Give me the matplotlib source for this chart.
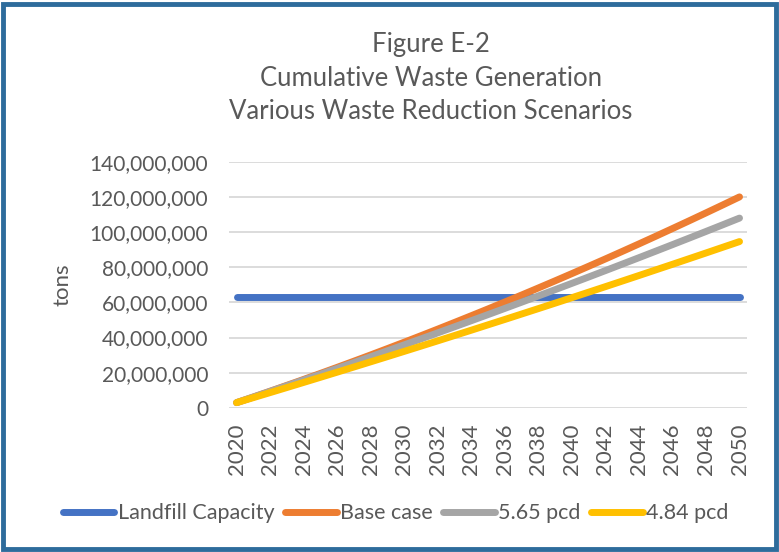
import matplotlib
matplotlib.use("Agg")
import matplotlib.pyplot as plt
from matplotlib.patches import Rectangle
from matplotlib.ticker import FuncFormatter

plt.rcParams['font.family'] = ['Lato', 'DejaVu Sans']

# data (tons, cumulative)
years = list(range(2020, 2051))
landfill = [63_000_000] * 31
base_case = [3.0, 6.23, 9.51, 12.83, 16.20, 19.61, 23.07, 26.58, 30.13, 33.74,
             37.38, 41.07, 44.81, 48.60, 52.43, 56.30, 60.22, 64.19, 68.21, 72.27,
             76.38, 80.54, 84.73, 88.98, 93.27, 97.61, 102.00, 106.43, 110.91, 115.43, 120.0]
pcd_565 = [3.0, 6.19, 9.40, 12.64, 15.89, 19.17, 22.46, 25.78, 29.12, 32.48,
           35.86, 39.26, 42.69, 46.13, 49.60, 53.08, 56.59, 60.12, 63.67, 67.24,
           70.84, 74.45, 78.09, 81.75, 85.43, 89.13, 92.85, 96.59, 100.35, 104.14, 107.95]
pcd_484 = [3.0, 5.85, 8.72, 11.60, 14.50, 17.41, 20.33, 23.27, 26.22, 29.18,
           32.16, 35.15, 38.15, 41.17, 44.20, 47.26, 50.31, 53.39, 56.47, 59.58,
           62.69, 65.82, 68.96, 72.12, 75.29, 78.48, 81.67, 84.89, 88.11, 91.36, 94.60]
series_names = ['Landfill Capacity', 'Base case', '5.65 pcd', '4.84 pcd']
colors = ['#4472C4', '#ED7D31', '#A5A5A5', '#FFC000']

gray_txt = '#595959'

fig = plt.figure(figsize=(7.79, 5.52), dpi=100)
ax = fig.add_axes([0.294, 0.261, 0.665, 0.446])

all_series = [landfill,
              [v * 1e6 for v in base_case],
              [v * 1e6 for v in pcd_565],
              [v * 1e6 for v in pcd_484]]
for vals, name, c in zip(all_series, series_names, colors):
    ax.plot(years, vals, color=c, lw=5, solid_capstyle='round', label=name)

ax.set_xlim(2019.55, 2050.45)
ax.set_ylim(0, 140_000_000)
ax.set_yticks(range(0, 140_000_001, 20_000_000))
ax.yaxis.set_major_formatter(FuncFormatter(lambda v, p: f'{int(v):,}'))
ax.set_xticks(years[::2])
ax.tick_params(axis='x', labelrotation=90, pad=11, labelsize=16)
ax.tick_params(axis='y', pad=15, labelsize=15)
ax.tick_params(length=0, colors=gray_txt)
ax.grid(axis='y', color='#D9D9D9', lw=1.3)
ax.set_axisbelow(True)
for s in ax.spines.values():
    s.set_visible(False)
ax.set_ylabel('tons', fontsize=16, color=gray_txt, labelpad=12)

fig.text(0.553, 0.858, 'Figure E-2\nCumulative Waste Generation\nVarious Waste Reduction Scenarios',
         ha='center', va='center', fontsize=18.5, color=gray_txt, linespacing=1.42)

fig.legend(loc='center', bbox_to_anchor=(0.508, 0.07), ncol=4, frameon=False,
           fontsize=15.5, handlelength=2.4, handletextpad=0.15, columnspacing=0.5,
           labelcolor=gray_txt)

fig.patches.append(Rectangle((0.004, 0.006), 0.992, 0.986, transform=fig.transFigure,
                             fill=False, edgecolor='#2E6C9C', lw=3.5))

fig.savefig('out.png', dpi=100)
